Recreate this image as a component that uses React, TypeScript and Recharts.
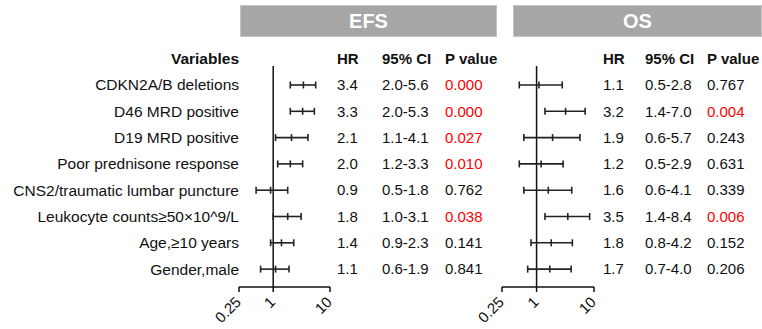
import { ScatterChart, Scatter, ErrorBar, XAxis, YAxis, ReferenceLine } from "recharts";

const variables = [
  "CDKN2A/B deletions",
  "D46 MRD positive",
  "D19 MRD positive",
  "Poor prednisone response",
  "CNS2/traumatic lumbar puncture",
  "Leukocyte counts≥50×10^9/L",
  "Age,≥10 years",
  "Gender,male",
];

const efsHr = [3.4, 3.3, 2.1, 2.0, 0.9, 1.8, 1.4, 1.1];
const efsLow = [2.0, 2.0, 1.1, 1.2, 0.5, 1.0, 0.9, 0.6];
const efsHigh = [5.6, 5.3, 4.1, 3.3, 1.8, 3.1, 2.3, 1.9];
const efsP = [0.0, 0.0, 0.027, 0.01, 0.762, 0.038, 0.141, 0.841];

const osHr = [1.1, 3.2, 1.9, 1.2, 1.6, 3.5, 1.8, 1.7];
const osLow = [0.5, 1.4, 0.6, 0.5, 0.6, 1.4, 0.8, 0.7];
const osHigh = [2.8, 7.0, 5.7, 2.9, 4.1, 8.4, 4.2, 4.0];
const osP = [0.767, 0.004, 0.243, 0.631, 0.339, 0.006, 0.152, 0.206];

const xTicks = [0.25, 1, 10];
const rowTicks = [-1, 0, 1, 2, 3, 4, 5, 6, 7];
const columnHeaders = ["HR", "95% CI", "P value"];

const FONT = "'Liberation Sans', Arial, sans-serif";
const INK = "#111";
const Y_DOMAIN = [-1.33, 7.68];

function XTick(props: any) {
  const { x, y, payload } = props;
  const ax = x + 3;
  const ay = y + 9;
  return (
    <text x={ax} y={ay} transform={`rotate(-45, ${ax}, ${ay})`} textAnchor="end" fontSize={15} fill={INK} fontFamily={FONT}>
      {String(payload.value)}
    </text>
  );
}

function LabelTick(props: any) {
  const { y, payload } = props;
  const i = payload.value;
  const header = i < 0;
  return (
    <text x={239} y={y} dy="0.35em" textAnchor="end" fontSize={15.5} fontWeight={header ? 700 : 400} fill={INK} fontFamily={FONT}>
      {header ? "Variables" : variables[i]}
    </text>
  );
}

function makeTableTick(hr: number[], low: number[], high: number[], p: number[], x0: number, cols: number[]) {
  return function TableTick(props: any) {
    const { y, payload } = props;
    const i = payload.value;
    if (i < 0) {
      return (
        <g>
          {columnHeaders.map((h, k) => (
            <text key={h} x={x0 + cols[k]} y={y} dy="0.35em" fontSize={15} fontWeight={700} fill={INK} fontFamily={FONT}>
              {h}
            </text>
          ))}
        </g>
      );
    }
    const cells = [hr[i].toFixed(1), `${low[i].toFixed(1)}-${high[i].toFixed(1)}`, p[i].toFixed(3)];
    return (
      <g>
        {cells.map((c, k) => (
          <text
            key={k}
            x={x0 + cols[k]}
            y={y}
            dy="0.35em"
            fontSize={15}
            fill={k === 2 && p[i] < 0.05 ? "#ff0000" : INK}
            fontFamily={FONT}
          >
            {c}
          </text>
        ))}
      </g>
    );
  };
}

const HrMark = (props: any) => {
  const { cx, cy } = props;
  return <line x1={cx} x2={cx} y1={cy - 3.5} y2={cy + 3.5} stroke="#222" strokeWidth={1.6} />;
};

interface PanelProps {
  title: string;
  left: number;
  width: number;
  marginLeft: number;
  labelWidth: number;
  tableWidth: number;
  cols: number[];
  hr: number[];
  low: number[];
  high: number[];
  p: number[];
  bar: { left: number; width: number };
}

function ForestPanel({ title, left, width, marginLeft, labelWidth, tableWidth, cols, hr, low, high, p, bar }: PanelProps) {
  const rows = hr.map((v, i) => ({ row: i, hr: v, err: [v - low[i], high[i] - v] }));
  const TableTick = makeTableTick(hr, low, high, p, width - tableWidth, cols);
  return (
    <>
      <div
        style={{
          position: "absolute",
          left: bar.left,
          top: 5,
          width: bar.width,
          height: 32,
          background: "#a6a6a6",
          boxSizing: "border-box",
          border: "1px solid #c4c4c4",
          color: "#fff",
          fontFamily: FONT,
          fontWeight: 700,
          fontSize: 20,
          lineHeight: "30px",
          textAlign: "center",
        }}
      >
        {title}
      </div>
      <div style={{ position: "absolute", left, top: 0 }}>
        <ScatterChart width={width} height={329} margin={{ top: 50, right: 0, bottom: 0, left: marginLeft }}>
          <XAxis
            dataKey="hr"
            type="number"
            scale="log"
            domain={[0.25, 10]}
            allowDataOverflow
            ticks={xTicks}
            interval={0}
            height={42}
            tick={<XTick />}
            tickSize={5}
            axisLine={{ stroke: "#111", strokeWidth: 1.5 }}
            tickLine={{ stroke: "#111", strokeWidth: 1.5 }}
          />
          {labelWidth > 0 ? (
            <YAxis
              yAxisId="l"
              dataKey="row"
              type="number"
              domain={Y_DOMAIN}
              allowDataOverflow
              reversed
              ticks={rowTicks}
              interval={0}
              width={labelWidth}
              axisLine={false}
              tickLine={false}
              tick={<LabelTick />}
            />
          ) : null}
          <YAxis
            yAxisId="r"
            orientation="right"
            dataKey="row"
            type="number"
            domain={Y_DOMAIN}
            allowDataOverflow
            reversed
            ticks={rowTicks}
            interval={0}
            width={tableWidth}
            axisLine={false}
            tickLine={false}
            tick={<TableTick />}
          />
          <ReferenceLine
            yAxisId="r"
            segment={[
              { x: 1, y: -0.72 },
              { x: 1, y: 7.68 },
            ]}
            stroke="#111"
            strokeWidth={1.5}
          />
          <Scatter yAxisId="r" data={rows} shape={<HrMark />} isAnimationActive={false}>
            <ErrorBar dataKey="err" direction="x" width={3.5} stroke="#222" strokeWidth={1.6} isAnimationActive={false} />
          </Scatter>
        </ScatterChart>
      </div>
    </>
  );
}

export default function App() {
  return (
    <div style={{ position: "fixed", left: 0, top: 0, width: 762, height: 329, background: "#fff", overflow: "hidden" }}>
      <ForestPanel
        title="EFS"
        left={0}
        width={500}
        marginLeft={0}
        labelWidth={239}
        tableWidth={170}
        cols={[7, 52, 115]}
        hr={efsHr}
        low={efsLow}
        high={efsHigh}
        p={efsP}
        bar={{ left: 240, width: 257 }}
      />
      <ForestPanel
        title="OS"
        left={470}
        width={292}
        marginLeft={32}
        labelWidth={0}
        tableWidth={168}
        cols={[9, 51, 113]}
        hr={osHr}
        low={osLow}
        high={osHigh}
        p={osP}
        bar={{ left: 513, width: 249 }}
      />
    </div>
  );
}
